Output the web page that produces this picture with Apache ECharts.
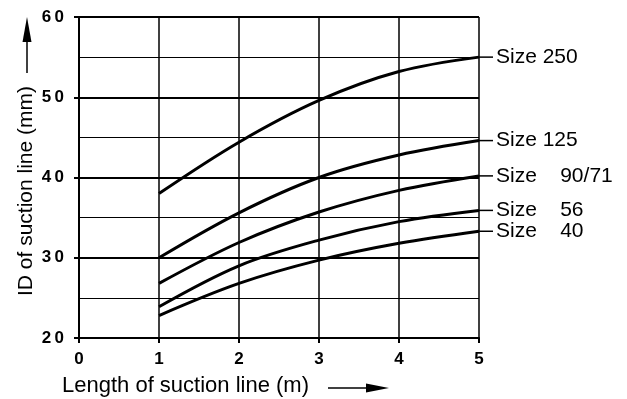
<!DOCTYPE html>
<html><head><meta charset="utf-8">
<script src="https://cdn.jsdelivr.net/npm/echarts@6/dist/echarts.min.js"></script>
<style>html,body{margin:0;padding:0;background:#fff}#c{width:627px;height:399px}</style>
</head><body><div id="c"></div>
<script>
const lengths = [1, 2, 3, 4, 5];
const seriesNames = ['Size 250', 'Size 125', 'Size    90/71', 'Size    56', 'Size    40'];
const size250 = [38.0, 44.4, 49.6, 53.2, 55.0];
const size125 = [30.0, 35.6, 40.0, 42.8, 44.6];
const size90 = [26.8, 31.9, 35.7, 38.4, 40.2];
const size56 = [23.9, 29.0, 32.2, 34.5, 35.9];
const size40 = [22.8, 26.8, 29.7, 31.8, 33.3];
const xTicks = [0, 1, 2, 3, 4, 5];
const yTicks = [20, 30, 40, 50, 60];
const xTitle = 'Length of suction line (m)';
const yTitle = 'ID of suction line (mm)';

const allValues = [size250, size125, size90, size56, size40];
const chart = echarts.init(document.getElementById('c'));
const font = '"Liberation Sans", Arial, sans-serif';
const series = allValues.map((vals, i) => ({
  type: 'line',
  name: seriesNames[i],
  data: lengths.map((x, j) => [x, vals[j]]),
  smooth: 0.35,
  symbol: 'none',
  lineStyle: { color: '#000', width: 3 },
  endLabel: {
    show: true,
    distance: 0,
    formatter: () => '{l|}{t|' + seriesNames[i] + '}',
    rich: {
      l: { width: 14, height: 1.5, backgroundColor: '#000' },
      t: { fontFamily: font, fontSize: 21, color: '#000', padding: [0, 0, 0, 3] }
    }
  },
  animation: false
}));

chart.setOption({
  animation: false,
  grid: { left: 79, right: 148, top: 17, bottom: 61 },
  xAxis: {
    type: 'value', min: 0, max: 5, interval: 1,
    axisLine: { show: true, lineStyle: { color: '#000', width: 2 } },
    axisTick: { show: true, length: 5, lineStyle: { color: '#000', width: 2 } },
    axisLabel: { color: '#000', fontFamily: font, fontWeight: 'bold', fontSize: 17, margin: 13,
      formatter: v => xTicks.includes(v) ? String(v) : '' },
    splitLine: { show: true, lineStyle: { color: '#000', width: 1.5 } }
  },
  yAxis: {
    type: 'value', min: 20, max: 60, interval: 10,
    axisLine: { show: true, lineStyle: { color: '#000', width: 2 } },
    axisTick: { show: true, length: 5, lineStyle: { color: '#000', width: 2 } },
    axisLabel: { color: '#000', fontFamily: font, fontWeight: 'bold', fontSize: 17, margin: 15,
      formatter: v => yTicks.includes(v) ? String(v).split('').join('\u2009') : '' },
    splitLine: { show: true, lineStyle: { color: '#000', width: 2 } },
    minorTick: { show: false, splitNumber: 2 },
    minorSplitLine: { show: true, lineStyle: { color: '#000', width: 1.2 } }
  },
  graphic: [
    { type: 'text', left: 62, top: 375, style: { text: xTitle, font: '22px ' + font, fill: '#000' } },
    { type: 'line', shape: { x1: 328, y1: 388, x2: 372, y2: 388 }, style: { stroke: '#000', lineWidth: 1.5 } },
    { type: 'polygon', shape: { points: [[366, 383.5], [389, 388], [366, 392.5]] }, style: { fill: '#000' } },
    { type: 'text', x: 26, y: 191, rotation: Math.PI / 2,
      style: { text: yTitle, font: '21px ' + font, fill: '#000', textAlign: 'center', textVerticalAlign: 'middle' } },
    { type: 'line', shape: { x1: 27, y1: 73, x2: 27, y2: 38 }, style: { stroke: '#000', lineWidth: 1.5 } },
    { type: 'polygon', shape: { points: [[22.5, 42], [27, 17], [31.5, 42]] }, style: { fill: '#000' } }
  ],
  series: series
});
</script></body></html>
